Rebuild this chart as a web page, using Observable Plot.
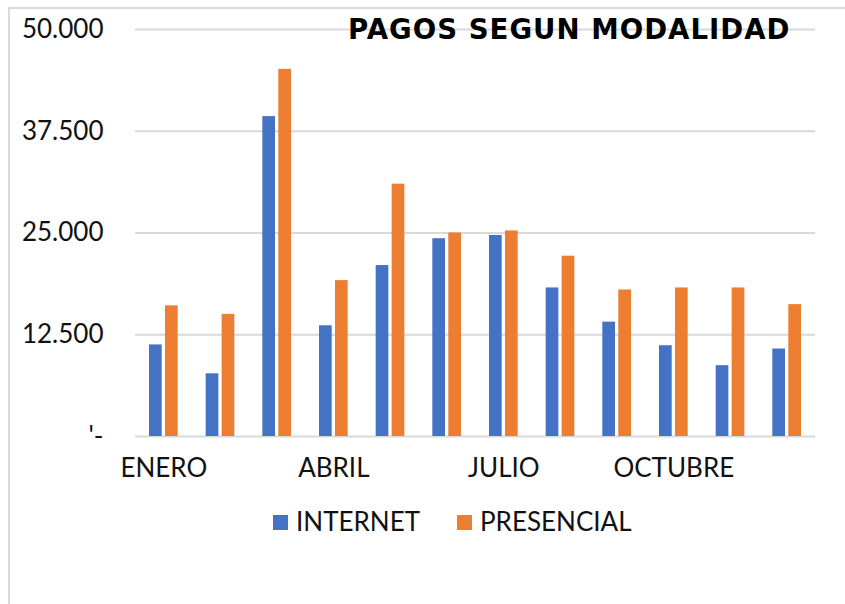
<!DOCTYPE html>
<html>
<head>
<meta charset="utf-8">
<script src="https://cdn.jsdelivr.net/npm/d3@7"></script>
<script src="https://cdn.jsdelivr.net/npm/@observablehq/plot@0.6"></script>
<style>
  html, body { margin: 0; padding: 0; background: #fff; }
  #wrap { position: relative; width: 845px; height: 604px; overflow: hidden; font-family: Lato, "Noto Sans", sans-serif; color: #111; }
  #frame { position: absolute; left: 8px; top: 7px; width: 900px; height: 700px; border-left: 2px solid #d9d9d9; border-top: 2px solid #d9d9d9; box-sizing: border-box; }
  #chart { position: absolute; left: 0; top: 0; }
  #title { position: absolute; left: 348px; font-family: "DejaVu Sans", sans-serif; font-weight: bold; font-size: 25px; letter-spacing: 1px; white-space: nowrap; color: #000; line-height: 1; }
  #legend { position: absolute; top: 506px; left: 0; width: 845px; font-size: 26px; line-height: 30px; }
  .item { position: absolute; top: 0; white-space: nowrap; }
  .sw { display: inline-block; width: 15px; height: 15px; vertical-align: middle; margin-right: 8px; position: relative; top: -2px; }
</style>
</head>
<body>
<div id="wrap">
  <div id="frame"></div>
  <div id="chart"></div>
  <div id="title">PAGOS SEGUN MODALIDAD</div>
  <div id="legend"></div>
</div>
<script>
const months = ["ENERO","FEBRERO","MARZO","ABRIL","MAYO","JUNIO","JULIO","AGOSTO","SEPTIEMBRE","OCTUBRE","NOVIEMBRE","DICIEMBRE"];
const shownMonths = ["ENERO","ABRIL","JULIO","OCTUBRE"];
const series = ["INTERNET","PRESENCIAL"];
const colors = ["#4472C4","#ED7D31"];
const internet   = [11250, 7700, 39300, 13600, 21000, 24300, 24700, 18250, 14050, 11150, 8700, 10750];
const presencial = [16050, 15000, 45100, 19150, 31000, 25000, 25250, 22150, 18000, 18250, 18250, 16200];
const yTicks = [0, 12500, 25000, 37500, 50000];

const locale = d3.formatLocale({decimal: ",", thousands: ".", grouping: [3], currency: ["", ""]});
const fmt = locale.format(",.0f");

const dataI = months.map((m, i) => ({month: m, value: internet[i]}));
const dataP = months.map((m, i) => ({month: m, value: presencial[i]}));

const W = 845, H = 500, ML = 135, MR = 30, MT = 29, MB = 64;
const band = (W - ML - MR) / months.length;
const barW = band * 0.224;
const gap = band * 0.058;
const outer = (band - 2 * barW - gap) / 2;

const chart = Plot.plot({
  width: W,
  height: H,
  marginLeft: ML,
  marginRight: MR,
  marginTop: MT,
  marginBottom: MB,
  style: {fontFamily: "Lato, 'Noto Sans', sans-serif", fontSize: "26px", color: "#111", background: "transparent", overflow: "visible"},
  x: {domain: months, padding: 0, round: false, tickSize: 0, tickPadding: 22, label: null,
      tickFormat: d => shownMonths.includes(d) ? d : ""},
  y: {domain: [0, 50000], ticks: yTicks, tickSize: 0, tickPadding: 32, label: null,
      tickFormat: d => d === 0 ? "'-" : fmt(d)},
  marks: [
    Plot.ruleY(yTicks, {y: d => d, stroke: "#d9d9d9", strokeWidth: 2}),
    Plot.barY(dataI, {x: "month", y: "value", fill: colors[0], insetLeft: outer, insetRight: outer + barW + gap}),
    Plot.barY(dataP, {x: "month", y: "value", fill: colors[1], insetLeft: outer + barW + gap, insetRight: outer})
  ]
});
document.getElementById("chart").appendChild(chart);

// legend
const legend = document.getElementById("legend");
const positions = [273, 457];
series.forEach((s, i) => {
  const it = document.createElement("div");
  it.className = "item";
  it.style.left = positions[i] + "px";
  const sw = document.createElement("span");
  sw.className = "sw";
  sw.style.background = colors[i];
  it.appendChild(sw);
  it.appendChild(document.createTextNode(s));
  legend.appendChild(it);
});

// fit title to the reference width (445px) by scaling the font size
const t = document.getElementById("title");
const tw = t.getBoundingClientRect().width;
const fs = 25 * 445 / tw;
t.style.fontSize = fs + "px";
t.style.top = (42 - fs * 0.93) + "px";
</script>
</body>
</html>
